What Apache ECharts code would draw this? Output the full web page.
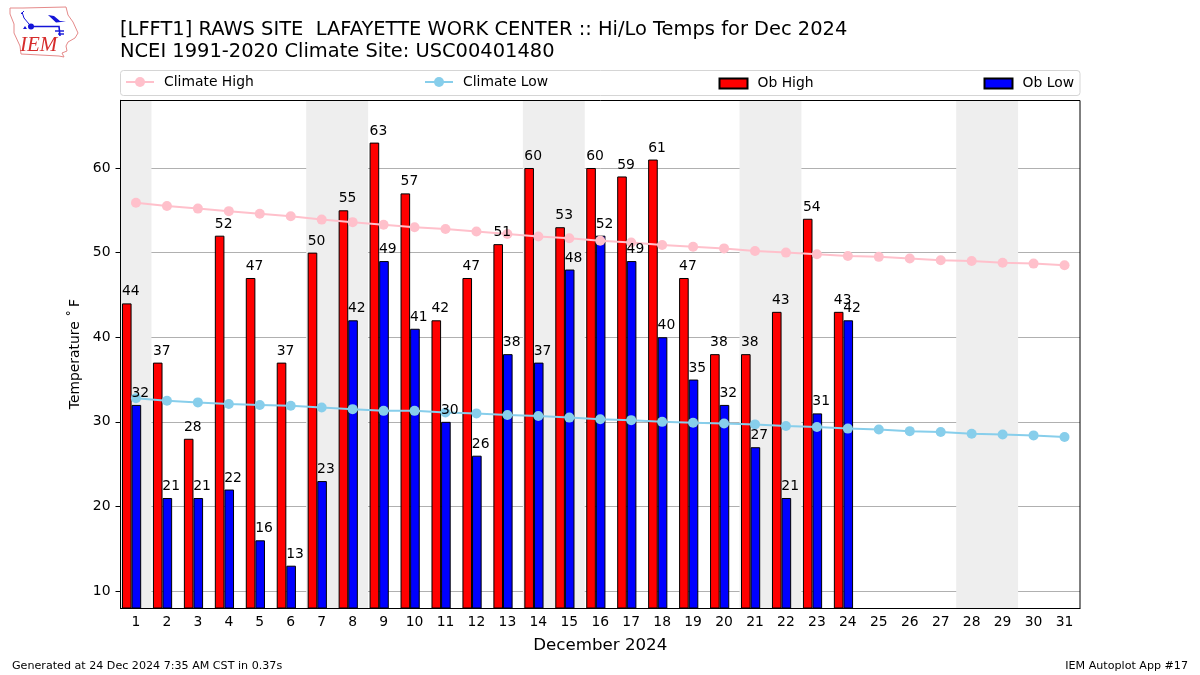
<!DOCTYPE html>
<html><head><meta charset="utf-8">
<style>html,body{margin:0;padding:0;background:#fff}#c{width:1200px;height:675px}</style>
<script src="https://cdn.jsdelivr.net/npm/echarts@6/dist/echarts.min.js"></script>
</head><body><div id="c"></div>
<script>
const days = Array.from({length:31},(_,i)=>String(i+1));
const obHigh = [44,37,28,52,47,37,50,55,63,57,42,47,51,60,53,60,59,61,47,38,38,43,54,43];
const obLow = [32,21,21,22,16,13,23,42,49,41,30,26,38,37,48,52,49,40,35,32,27,21,31,42];
const climateHigh = [55.9,55.5,55.2,54.9,54.6,54.3,53.9,53.6,53.3,53.0,52.8,52.5,52.2,51.9,51.7,51.4,51.2,50.9,50.7,50.5,50.2,50.0,49.8,49.6,49.5,49.3,49.1,49.0,48.8,48.7,48.5];
const climateLow = [32.8,32.5,32.3,32.1,32.0,31.9,31.7,31.5,31.3,31.3,31.1,31.0,30.8,30.7,30.5,30.3,30.2,30.0,29.9,29.8,29.7,29.5,29.4,29.2,29.1,28.9,28.8,28.6,28.5,28.4,28.2];
const weekendRanges = [[1,1],[7,8],[14,15],[21,22],[28,29]];
const yTicks = [10,20,30,40,50,60];
const titleLines = ['[LFFT1] RAWS SITE  LAFAYETTE WORK CENTER :: Hi/Lo Temps for Dec 2024','NCEI 1991-2020 Climate Site: USC00401480'];
const xTitle = 'December 2024', yTitle = 'Temperature \u02DA\u2009F';
const footLeft = 'Generated at 24 Dec 2024 7:35 AM CST in 0.37s', footRight = 'IEM Autoplot App #17';

const F = 'DejaVu Sans';
const labelSeries = (name,values,dx)=>({type:'scatter',name,data:values,z:5,silent:true,symbol:'circle',symbolSize:1,itemStyle:{color:'transparent',opacity:1},
  label:{show:true,position:'top',align:'left',distance:4,offset:[dx,0],color:'#000',fontFamily:F,fontSize:13.9}});
const chart = echarts.init(document.getElementById('c'),null,{renderer:'canvas'});
const legendAt = (name,left,icon)=>({show:true,data:[icon?{name,icon}:name],left,top:icon?76.5:75,itemWidth:28,itemHeight:icon?10:12.5,itemGap:0,padding:0,
  textStyle:{fontFamily:F,fontSize:13.9,color:'#000',padding:[0,0,0,5]},selectedMode:false});
chart.setOption({
  animation:false,
  backgroundColor:'#fff',
  title:[
    {text:titleLines[0],left:120,top:20,padding:0,textStyle:{fontFamily:F,fontSize:19.45,fontWeight:'normal',color:'#000'}},
    {text:titleLines[1],left:120,top:42,padding:0,textStyle:{fontFamily:F,fontSize:19.45,fontWeight:'normal',color:'#000'}},
    {text:footLeft,left:12,top:661,padding:0,textStyle:{fontFamily:F,fontSize:11.11,fontWeight:'normal',color:'#000'}},
    {text:footRight,right:12,top:661,padding:0,textStyle:{fontFamily:F,fontSize:11.11,fontWeight:'normal',color:'#000'}}
  ],
  legend:[legendAt('Climate High',125),legendAt('Climate Low',424),legendAt('Ob High',718.5,'rect'),legendAt('Ob Low',983.5,'rect')],
  grid:{left:120.5,top:100.3,width:959.5,height:507.7,containLabel:false,show:false},
  xAxis:{type:'category',data:days,boundaryGap:true,name:xTitle,nameLocation:'middle',nameGap:29,
    nameTextStyle:{fontFamily:F,fontSize:16.67,color:'#000'},
    axisLine:{onZero:false,lineStyle:{color:'#000',width:1}},
    axisTick:{alignWithLabel:true,length:5,lineStyle:{color:'#000'}},
    axisLabel:{interval:0,fontFamily:F,fontSize:13.9,color:'#000',margin:7},splitLine:{show:false}},
  yAxis:{type:'value',min:8,max:68,name:yTitle,nameLocation:'middle',nameGap:38,
    nameTextStyle:{fontFamily:F,fontSize:13.9,color:'#000'},
    axisLine:{show:true,onZero:false,lineStyle:{color:'#000',width:1}},
    axisTick:{show:true,length:5,customValues:yTicks,lineStyle:{color:'#000'}},
    axisLabel:{customValues:yTicks,fontFamily:F,fontSize:13.9,color:'#000',margin:10},
    splitLine:{show:true,lineStyle:{color:'#b0b0b0',width:1}}},
  series:[
    {type:'custom',name:'Weekend',silent:true,z:0,data:weekendRanges,encode:{x:0},
     renderItem:(p,api)=>{
       const a=api.value(0),b=api.value(1),w=api.size([1,0])[0];
       const x0=api.coord([a-1,8])[0]-w/2, x1=api.coord([b-1,8])[0]+w/2;
       const g=p.coordSys;
       return {type:'rect',shape:{x:x0,y:g.y,width:x1-x0,height:g.height},style:{fill:'#eeeeee'}};
     }},
    {type:'bar',name:'Ob High',data:obHigh,barWidth:9.6,barGap:0,z:2,itemStyle:{color:'#ff0000',borderColor:'#000',borderWidth:1}},
    {type:'bar',name:'Ob Low',data:obLow,barWidth:9.6,barGap:0,z:2,itemStyle:{color:'#0000ff',borderColor:'#000',borderWidth:1}},
    {type:'bar',name:'spacer',data:[],barWidth:8.8,barGap:0,z:2},
    {type:'line',name:'Climate High',data:climateHigh,z:3,color:'#ffc0cb',symbol:'circle',symbolSize:10,showSymbol:true,lineStyle:{color:'#ffc0cb',width:2},itemStyle:{color:'#ffc0cb'}},
    {type:'line',name:'Climate Low',data:climateLow,z:3,color:'#87ceeb',symbol:'circle',symbolSize:10,showSymbol:true,lineStyle:{color:'#87ceeb',width:2},itemStyle:{color:'#87ceeb'}},
    labelSeries('High labels',obHigh,-14),
    labelSeries('Low labels',obLow,-4.6)
  ],
  graphic:[
    {type:'rect',z:-1,shape:{x:120.5,y:70.5,width:959.5,height:25,r:3},style:{fill:'#fff',stroke:'#d5d5d5',lineWidth:1}},
    {type:'rect',z:10,shape:{x:120.5,y:100.5,width:959.5,height:508},style:{fill:'none',stroke:'#000',lineWidth:1},silent:true},
    // IEM logo
    {type:'polygon',z:5,shape:{points:[[10,8],[23,8],[66,7],[68,15],[73,22],[78,33],[75,38],[68,42],[66,46],[67,51],[62,53],[64,57],[59,56],[21,54],[20,46],[14,33],[14,24],[10,14]]},style:{fill:'#fff',stroke:'#e58a8a',lineWidth:1}},
    {type:'polyline',z:6,shape:{points:[[31,26.5],[59,26.5],[60,36]]},style:{stroke:'#1414d8',fill:'none',lineWidth:1.6}},
    {type:'polyline',z:6,shape:{points:[[29,24],[24,18],[22,12]]},style:{stroke:'#1414d8',fill:'none',lineWidth:1}},
    {type:'polyline',z:6,shape:{points:[[21,14],[24,11]]},style:{stroke:'#1414d8',fill:'none',lineWidth:1}},
    {type:'circle',z:6,shape:{cx:31,cy:26.5,r:3},style:{fill:'#1414d8'}},
    {type:'polygon',z:6,shape:{points:[[48,15],[54,16],[60,21],[66,21.5],[56,22.5]]},style:{fill:'#1414d8'}},
    {type:'polyline',z:6,shape:{points:[[55,31],[64,31]]},style:{stroke:'#1414d8',fill:'none',lineWidth:1.4}},
    {type:'polyline',z:6,shape:{points:[[58,34],[64,34]]},style:{stroke:'#1414d8',fill:'none',lineWidth:1.4}},
    {type:'polygon',z:6,shape:{points:[[25,26],[27,29],[23,29]]},style:{fill:'#1414d8'}},
    {type:'text',z:6,left:20,top:35,style:{text:'IEM',font:'italic 21px "Liberation Serif"',fill:'#d62c2c'}}
  ]
});
</script></body></html>
